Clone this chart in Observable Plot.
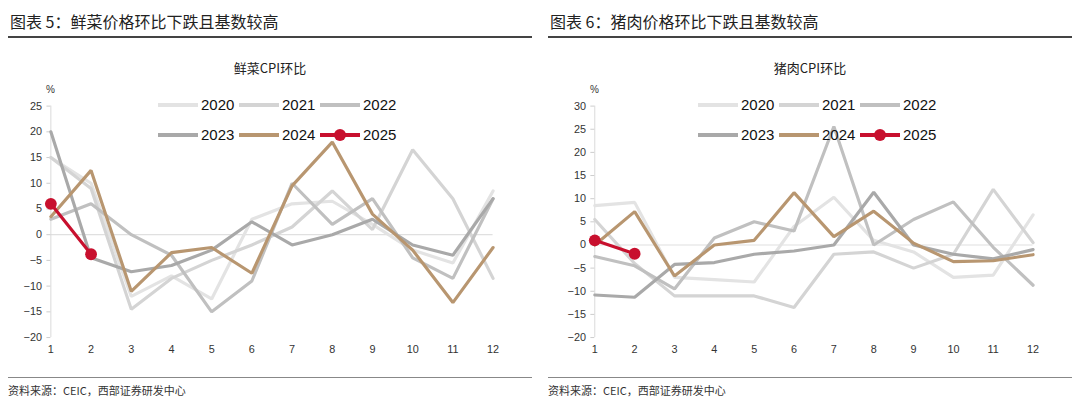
<!DOCTYPE html><html><head><meta charset="utf-8">
<script src="https://cdn.jsdelivr.net/npm/d3@7"></script>
<script src="https://cdn.jsdelivr.net/npm/@observablehq/plot@0.6"></script>
<style>
body{margin:0;background:#fff;font-family:"Noto Sans CJK SC",sans-serif;}
#wrap{display:flex;gap:16px;padding:0 8px;}
.panel{width:532px;position:relative;height:406px;}
.title{font-size:16px;color:#222;padding:9px 0 0 2px;height:38px;border-bottom:2px solid #444;box-sizing:border-box;}
.ct{position:absolute;top:58px;width:100%;text-align:center;font-size:13px;color:#222;left:0;}
.plot{position:absolute;top:80px;left:0;}
.src{position:absolute;top:377px;width:100%;border-top:1px solid #888;font-size:11px;color:#333;padding-top:4px;}
.leg{position:absolute;font-family:Arial,"Liberation Sans",sans-serif;font-size:15px;color:#111;display:flex;align-items:center;}
.sw{width:40px;height:4px;margin-right:3px;position:relative;}
.dot{position:absolute;left:14px;top:-4px;width:12px;height:12px;border-radius:6px;}
.unit{position:absolute;top:84px;font-size:10px;color:#333;font-family:Arial,sans-serif;}
</style></head><body><div id="wrap"></div>
<script>
const months=[1,2,3,4,5,6,7,8,9,10,11,12];
const years=["2020","2021","2022","2023","2024","2025"];
const colors=["#e3e3e3","#d4d4d4","#c0c0c0","#a9a9a9","#b89670","#c8102e"];
const veg2020=[15,10,-12,-8,-12.5,3,6,6.5,2,-3,-5.5,8.5];
const veg2021=[15,9,-14.5,-8.5,-5,-2,1.5,8.5,1,16.5,7,-8.5];
const veg2022=[3,6,0,-4,-15,-9,10,2,7,-4.5,-8.5,7];
const veg2023=[20,-4.5,-7.2,-6,-3,2.5,-2,0,3,-2,-4,7];
const veg2024=[3.5,12.5,-11,-3.5,-2.5,-7.5,9.5,18,4,-3,-13.2,-2.5];
const veg2025=[6,-3.8];
const pork2020=[8.5,9.2,-7,-7.5,-8,4,10.3,1,-1.5,-7,-6.5,6.5];
const pork2021=[5.5,-4,-11,-11,-11,-13.5,-2,-1.5,-5,-2,12,0.5];
const pork2022=[-2.5,-4.5,-9.5,1.5,5,3,25.6,0,5.5,9.3,-0.5,-8.7];
const pork2023=[-10.8,-11.3,-4.2,-3.8,-2,-1.3,0,11.4,0,-2,-3,-1];
const pork2024=[0,7.2,-6.7,0,1,11.3,1.8,7.3,0.4,-3.6,-3.4,-2.1];
const pork2025=[1,-1.9];
const panels=[
 {title:"图表 5：鲜菜价格环比下跌且基数较高",ct:"鲜菜CPI环比",series:[veg2020,veg2021,veg2022,veg2023,veg2024,veg2025],dom:[-20,25],ml:43},
 {title:"图表 6：猪肉价格环比下跌且基数较高",ct:"猪肉CPI环比",series:[pork2020,pork2021,pork2022,pork2023,pork2024,pork2025],dom:[-20,30],ml:47}
];
const wrap=document.getElementById("wrap");
panels.forEach(p=>{
  const div=document.createElement("div");div.className="panel";
  div.innerHTML=`<div class="title">${p.title}</div><div class="ct">${p.ct}</div><div class="unit" style="left:${p.ml-5}px">%</div>`;
  const data=[];
  p.series.forEach((s,i)=>s.forEach((v,j)=>data.push({year:years[i],m:months[j],v})));
  const chart=Plot.plot({
    width:532,height:290,marginTop:26,marginBottom:29,marginLeft:p.ml,marginRight:40,
    style:{fontFamily:"Arial, 'Liberation Sans', sans-serif",fontSize:"11px",color:"#333"},
    x:{domain:[1,12],ticks:months,tickFormat:d=>d,tickSize:0,tickPadding:8,label:null},
    y:{domain:p.dom,ticks:d3.range(p.dom[0],p.dom[1]+1,5),tickSize:4,tickPadding:3,label:null},
    color:{domain:years,range:colors},
    marks:[
      Plot.ruleY([0],{stroke:"#e0e0e0",strokeWidth:1.2}),
      Plot.ruleX([1],{stroke:"#d9d9d9"}),
      Plot.axisY({tickSize:4,stroke:"#ccc",ticks:d3.range(p.dom[0],p.dom[1]+1,5)}),
      Plot.line(data,{x:"m",y:"v",z:"year",stroke:"year",strokeWidth:3.2,strokeLinejoin:"miter"}),
      Plot.dot(data.filter(d=>d.year==="2025"),{x:"m",y:"v",r:6,fill:"#c8102e"})
    ]
  });
  const pd=document.createElement("div");pd.className="plot";pd.appendChild(chart);div.appendChild(pd);
  years.forEach((y,i)=>{
    const l=document.createElement("div");l.className="leg";
    l.style.left=(150+(i%3)*81)+"px";l.style.top=(96+Math.floor(i/3)*30)+"px";
    l.innerHTML=`<div class="sw" style="background:${colors[i]}">${i===5?`<div class="dot" style="background:${colors[i]}"></div>`:""}</div>${y}`;
    div.appendChild(l);
  });
  div.insertAdjacentHTML("beforeend",`<div class="src">资料来源：CEIC，西部证券研发中心</div>`);
  wrap.appendChild(div);
});
</script></body></html>
